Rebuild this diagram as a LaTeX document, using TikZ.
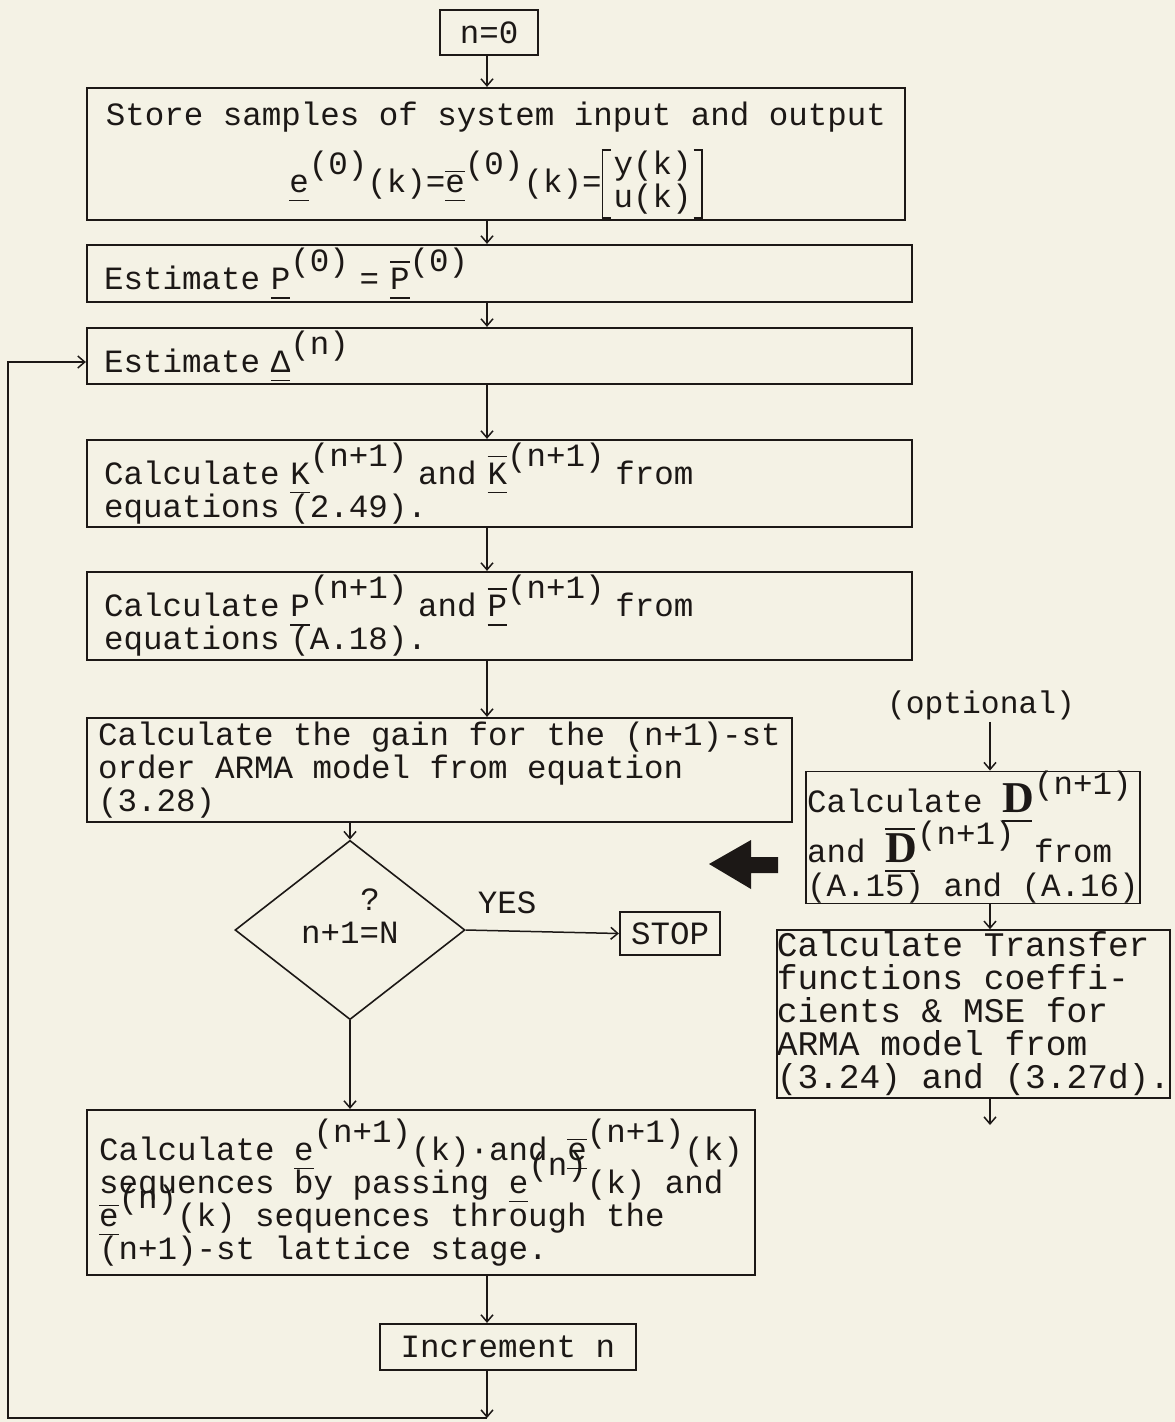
\documentclass[tikz,border=0pt]{standalone}
\usepackage{fontspec}
\setmainfont{Liberation Mono}
\newfontfamily\dfont{Liberation Serif}
\usetikzlibrary{shapes.geometric,arrows.meta}

\definecolor{paper}{RGB}{244,242,229}
\definecolor{ink}{RGB}{28,24,22}

% typewriter sizes
\newcommand{\tw}{\fontsize{32.5}{33}\selectfont\lineskiplimit=-100pt\relax}
\newcommand{\tb}{\fontsize{34.5}{33}\selectfont\lineskiplimit=-100pt\relax}
\newcommand{\tn}{\fontsize{31.3}{33}\selectfont}
% underlined vector, overbar, raised index
\newcommand{\uv}[1]{\rlap{\rule[-9pt]{0.6em}{1.5pt}}#1}
\newcommand{\ov}[2][27pt]{\rlap{\rule[#1]{0.6em}{1.5pt}}#2}
\newcommand{\up}[1]{\raisebox{18pt}{#1}}
\newcommand{\bD}{{\dfont\bfseries\fontsize{44}{44}\selectfont D}}
\newcommand{\Dvec}{\rlap{\rule[-9pt]{30pt}{1.5pt}}\bD}
\newcommand{\Dbar}{\rlap{\rule[33pt]{30pt}{1.5pt}}\Dvec}
% square brackets round a two-row column
\newcommand{\lbr}{\lower12pt\vbox{\hrule width9pt height1.8pt\hbox to9pt{\vrule width1.8pt height66.4pt\hfil}\hrule width9pt height1.8pt}}
\newcommand{\rbr}{\lower12pt\vbox{\hrule width9pt height1.8pt\hbox to9pt{\hfil\vrule width1.8pt height66.4pt}\hrule width9pt height1.8pt}}
\newcommand{\colv}[2]{\raisebox{-15pt}{\lbr\kern3pt\vbox{\hbox{#1}\hbox{#2}}\kern2pt\rbr}}

\begin{document}
\begin{tikzpicture}[x=1pt,y=-1pt,
    box/.style={draw=ink,line width=2.2pt,inner sep=0pt,text=ink,font=\tw},
    flow/.style={draw=ink,line width=1.5pt,-{Straight Barb[length=7pt,width=12pt]}}]
  \fill[paper] (0,0) rectangle (1175,1422);
  \useasboundingbox (0,0) rectangle (1175,1422);
  \coordinate (spine) at (487,0);
  \coordinate (rspine) at (990,0);

  % main column
  \node[box,minimum width=98pt,minimum height=45pt] (start) at (489,32.5) {n=0};
  \node[box,minimum width=818pt,minimum height=132pt,align=center] (store) at (496,154)
    {\rule{0pt}{36pt}Store samples of system input and output\\[34pt]
     \uv{e}\up{(0)}(k)=\ov[20pt]{\uv{e}}\up{(0)}(k)=\colv{y(k)}{u(k)}};
  \node[box,minimum width=825pt,minimum height=57pt,text width=791pt,align=left] (estP) at (499.5,273.5)
    {Estimate \uv{P}\up{(0)} = \ov{\uv{P}}\up{(0)}};
  \node[box,minimum width=825pt,minimum height=56pt,text width=791pt,align=left] (estD) at (499.5,356)
    {Estimate \uv{Δ}\up{(n)}};
  \node[box,minimum width=825pt,minimum height=87pt,text width=791pt,align=left] (calcK) at (499.5,483.5)
    {Calculate \uv{K}\up{(n+1)} and \ov{\uv{K}}\up{(n+1)}  from\\equations (2.49).};
  \node[box,minimum width=825pt,minimum height=88pt,text width=791pt,align=left] (calcP) at (499.5,616)
    {Calculate \uv{P}\up{(n+1)} and \ov{\uv{P}}\up{(n+1)}  from\\equations (A.18).};
  \node[box,minimum width=705pt,minimum height=104pt,align=left] (gain) at (439.5,770)
    {Calculate the gain for the (n+1)-st\\order ARMA model from equation\\(3.28)};
  \node[box,shape=diamond,line width=1.6pt,minimum width=230pt,minimum height=150pt,align=center] (test) at (350,930)
    {\hspace*{40pt}?\\n+1=N\rule[-27pt]{0pt}{0pt}};
  \node[box,minimum width=100pt,minimum height=43pt] (stop) at (670,933.5) {STOP};
  \node[box,minimum width=668pt,minimum height=165pt,align=left] (latt) at (421,1192.5)
    {Calculate \uv{e}\up{(n+1)}(k)·and \ov[20pt]{\uv{e}}\up{(n+1)}(k)\\
     sequences by passing \uv{e}\up{(n)}(k) and\\
     \ov[20pt]{\uv{e}}\up{(n)}(k) sequences through the\\
     (n+1)-st lattice stage.};
  \node[box,minimum width=256pt,minimum height=46pt] (incr) at (508,1347) {Increment n};

  % optional branch
  \node[text=ink,font=\tn,inner sep=2pt] (opt) at (981,705) {(optional)};
  \node[box,line width=1.6pt,minimum width=334pt,minimum height=131pt,align=left] (dcalc) at (973,837.5)
    {Calculate \Dvec\up{(n+1)}\\[17pt]and \Dbar\up{(n+1)}  from\\[1pt](A.15) and (A.16)};
  \node[box,font=\tb,line width=1.6pt,minimum width=393pt,minimum height=168pt,align=left] (tf) at (973.5,1014)
    {Calculate Transfer\\functions coeffi-\\cients \& MSE for\\ARMA model from\\(3.24) and (3.27d).};
  \fill[ink] (709,864) -- (751,840) -- (751,857) -- (778,857) -- (778,873) -- (751,873) -- (751,889) -- cycle;

  % connectors
  \draw[flow] (start.south -| spine) -- (store.north -| spine);
  \draw[flow] (store.south -| spine) -- (estP.north -| spine);
  \draw[flow] (estP.south -| spine) -- (estD.north -| spine);
  \draw[flow] (estD.south -| spine) -- (calcK.north -| spine);
  \draw[flow] (calcK.south -| spine) -- (calcP.north -| spine);
  \draw[flow] (calcP.south -| spine) -- (gain.north -| spine);
  \draw[flow] (gain.south -| test) -- (test.north);
  \draw[flow] (test.east) -- node[pos=.27,above=16pt,inner sep=0pt,text=ink,font=\tw] (yes) {YES} (stop.west);
  \draw[flow] (test.south) -- (latt.north -| test);
  \draw[flow] (latt.south -| spine) -- (incr.north -| spine);
  \coordinate (back) at (487,1418);
  \coordinate (corner) at (8,1418);
  \draw[flow] (incr.south -| spine) -- (back);
  \draw[flow] (back) -- (corner) |- ([yshift=-6pt]estD.west);
  \draw[flow] (opt.south -| rspine) -- (dcalc.north -| rspine);
  \draw[flow] (dcalc.south -| rspine) -- (tf.north -| rspine);
  \coordinate (tfout) at (990,1125);
  \draw[flow] (tf.south -| rspine) -- (tfout);
\end{tikzpicture}
\end{document}
